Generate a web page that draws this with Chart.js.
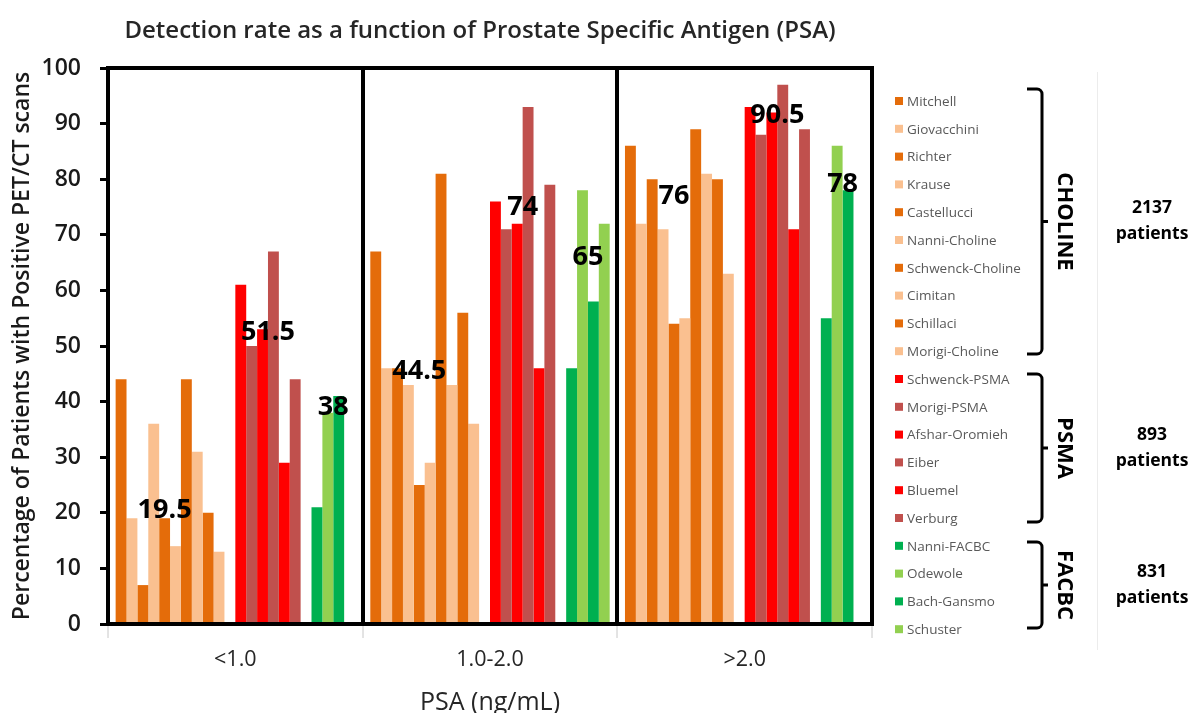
<!DOCTYPE html>
<html>
<head>
<meta charset="utf-8">
<script src="https://cdn.jsdelivr.net/npm/chart.js@4.4.1/dist/chart.umd.min.js"></script>
<style>
html, body { margin: 0; padding: 0; background: #fff; }
#wrap { width: 1190px; height: 713px; position: relative; }
</style>
</head>
<body>
<div id="wrap"><canvas id="c" width="1190" height="713"></canvas></div>
<script>
// PSA categories
const categories = ['<1.0', '1.0-2.0', '>2.0'];
// studies, in legend order
const studies = ['Mitchell', 'Giovacchini', 'Richter', 'Krause', 'Castellucci', 'Nanni-Choline', 'Schwenck-Choline', 'Cimitan', 'Schillaci', 'Morigi-Choline',
	'Schwenck-PSMA', 'Morigi-PSMA', 'Afshar-Oromieh', 'Eiber', 'Bluemel', 'Verburg',
	'Nanni-FACBC', 'Odewole', 'Bach-Gansmo', 'Schuster'];
const studyColors = ['#E46C0A', '#FAC090', '#E46C0A', '#FAC090', '#E46C0A', '#FAC090', '#E46C0A', '#FAC090', '#E46C0A', '#FAC090',
	'#FF0000', '#C0504D', '#FF0000', '#C0504D', '#FF0000', '#C0504D',
	'#00B050', '#92D050', '#00B050', '#92D050'];
// detection rate (%) per study, one array per PSA category (null = not reported)
const psaBelow1 = [44, 19, 7, 36, 19, 14, 44, 31, 20, 13, 61, 50, 53, 67, 29, 44, 21, 38, 41, null];
const psa1to2 = [67, 46, 46, 43, 25, 29, 81, 43, 56, 36, 76, 71, 72, 93, 46, 79, 46, 78, 58, 72];
const psaAbove2 = [86, 72, 80, 71, 54, 55, 89, 81, 80, 63, 93, 88, 92, 97, 71, 89, 55, 86, 78, null];
// medians per tracer, per category
const tracers = ['CHOLINE', 'PSMA', 'FACBC'];
const patientCounts = ['2137', '893', '831'];
const cholineMedian = [19.5, 44.5, 76];
const psmaMedian = [51.5, 74, 90.5];
const facbcMedian = [38, 65, 78];
const yTicks = [0, 10, 20, 30, 40, 50, 60, 70, 80, 90, 100];

const FONT = "'Open Sans', 'DejaVu Sans', sans-serif";
const rows = [psaBelow1, psa1to2, psaAbove2];

// datasets: one per study, with an empty spacer slot between tracer groups
const datasets = [];
studies.forEach((name, i) => {
	if (i === 10 || i === 16) datasets.push({ label: '', data: [null, null, null], backgroundColor: 'rgba(0,0,0,0)', spacer: true });
	datasets.push({
		label: name,
		data: rows.map(r => r[i]),
		backgroundColor: studyColors[i],
		borderWidth: 0
	});
});

const overlay = {
	id: 'overlay',
	afterDraw(chart) {
		const ctx = chart.ctx;
		const a = chart.chartArea;
		const xs = chart.scales.x, ys = chart.scales.y;
		ctx.save();
		// title
		ctx.fillStyle = '#262626';
		ctx.font = '600 24px ' + FONT;
		ctx.textAlign = 'center';
		ctx.textBaseline = 'middle';
		ctx.fillText('Detection rate as a function of Prostate Specific Antigen (PSA)', 480, 31);
		// frame
		ctx.strokeStyle = '#000';
		ctx.lineWidth = 4;
		ctx.strokeRect(a.left, a.top, a.right - a.left, a.bottom - a.top);
		// median labels
		const catW = (a.right - a.left) / categories.length;
		const slotW = catW * 0.94 / 22;
		const medians = [cholineMedian, psmaMedian, facbcMedian];
		const slotPos = [4.5, 14, 20];
		ctx.font = 'bold 27px ' + FONT;
		ctx.fillStyle = '#000';
		categories.forEach((c, ci) => {
			const cx = xs.getPixelForValue(ci);
			medians.forEach((m, ti) => {
				ctx.fillText(String(m[ci]), cx + (slotPos[ti] - 11) * slotW, ys.getPixelForValue(m[ci] + 1));
			});
		});
		// legend
		ctx.strokeStyle = '#ececec';
		ctx.lineWidth = 1;
		ctx.beginPath();
		ctx.moveTo(1097.5, 72);
		ctx.lineTo(1097.5, 650);
		ctx.stroke();
		ctx.font = '13.5px ' + FONT;
		ctx.textAlign = 'left';
		studies.forEach((name, i) => {
			const y = 101 + i * 27.8;
			ctx.fillStyle = studyColors[i];
			ctx.fillRect(895, y - 4, 8, 8);
			ctx.fillStyle = '#595959';
			ctx.fillText(name, 907, y + 1);
		});
		// brackets + tracer names + patient counts
		const brackets = [[89, 354], [374, 522], [542, 628]];
		brackets.forEach(([t, b], i) => {
			const mid = (t + b) / 2;
			const bx = 1042, lx = 1027, r = 5;
			ctx.strokeStyle = '#000';
			ctx.lineWidth = 3;
			ctx.lineJoin = 'round';
			ctx.beginPath();
			ctx.moveTo(lx, t);
			ctx.arcTo(bx, t, bx, t + r, r);
			ctx.lineTo(bx, b - r);
			ctx.arcTo(bx, b, lx, b, r);
			ctx.lineTo(lx, b);
			ctx.moveTo(bx, mid);
			ctx.lineTo(bx + 6, mid);
			ctx.stroke();
			ctx.save();
			ctx.translate(1064, mid);
			ctx.rotate(Math.PI / 2);
			ctx.font = 'bold 22px ' + FONT;
			ctx.fillStyle = '#000';
			ctx.textAlign = 'center';
			ctx.textBaseline = 'middle';
			ctx.fillText(tracers[i], 0, 0);
			ctx.restore();
			ctx.font = 'bold 17.5px ' + FONT;
			ctx.fillStyle = '#000';
			ctx.textAlign = 'center';
			ctx.fillText(patientCounts[i], 1152, mid - 13);
			ctx.fillText('patients', 1152, mid + 13);
			ctx.textAlign = 'left';
		});
		ctx.restore();
	}
};

new Chart(document.getElementById('c'), {
	type: 'bar',
	data: { labels: categories, datasets: datasets },
	options: {
		responsive: false,
		animation: false,
		layout: { padding: { top: 68, right: 318, left: 0, bottom: 0 } },
		datasets: { bar: { categoryPercentage: 0.94, barPercentage: 1 } },
		plugins: {
			legend: { display: false },
			tooltip: { enabled: false },
			title: { display: false }
		},
		scales: {
			x: {
				grid: { offset: true, color: '#000', lineWidth: 4, tickColor: '#c8c8c8', tickWidth: 1, tickLength: 14 },
				border: { display: false },
				ticks: { color: '#262626', font: { family: FONT, size: 21.5 }, padding: 9 },
				title: { display: true, text: 'PSA (ng/mL)', color: '#262626', font: { family: FONT, size: 25, lineHeight: 1 }, padding: { top: 0, bottom: -2 } },
				afterFit: s => { s.height = 713 - 624; }
			},
			y: {
				min: 0,
				max: 100,
				afterBuildTicks: s => { s.ticks = yTicks.map(v => ({ value: v })); },
				grid: { drawOnChartArea: false, color: '#000', tickColor: '#000', tickWidth: 3, tickLength: 8 },
				border: { display: false },
				ticks: { color: '#1a1a1a', font: { family: FONT, size: 23, weight: '600' }, padding: 19 },
				title: { display: true, text: 'Percentage of Patients with Positive PET/CT scans', color: '#1a1a1a', font: { family: FONT, size: 23, weight: '600', lineHeight: 1.1 }, padding: { top: 10, bottom: 0 } },
				afterFit: s => { s.width = 108; }
			}
		}
	},
	plugins: [overlay]
});
</script>
</body>
</html>
